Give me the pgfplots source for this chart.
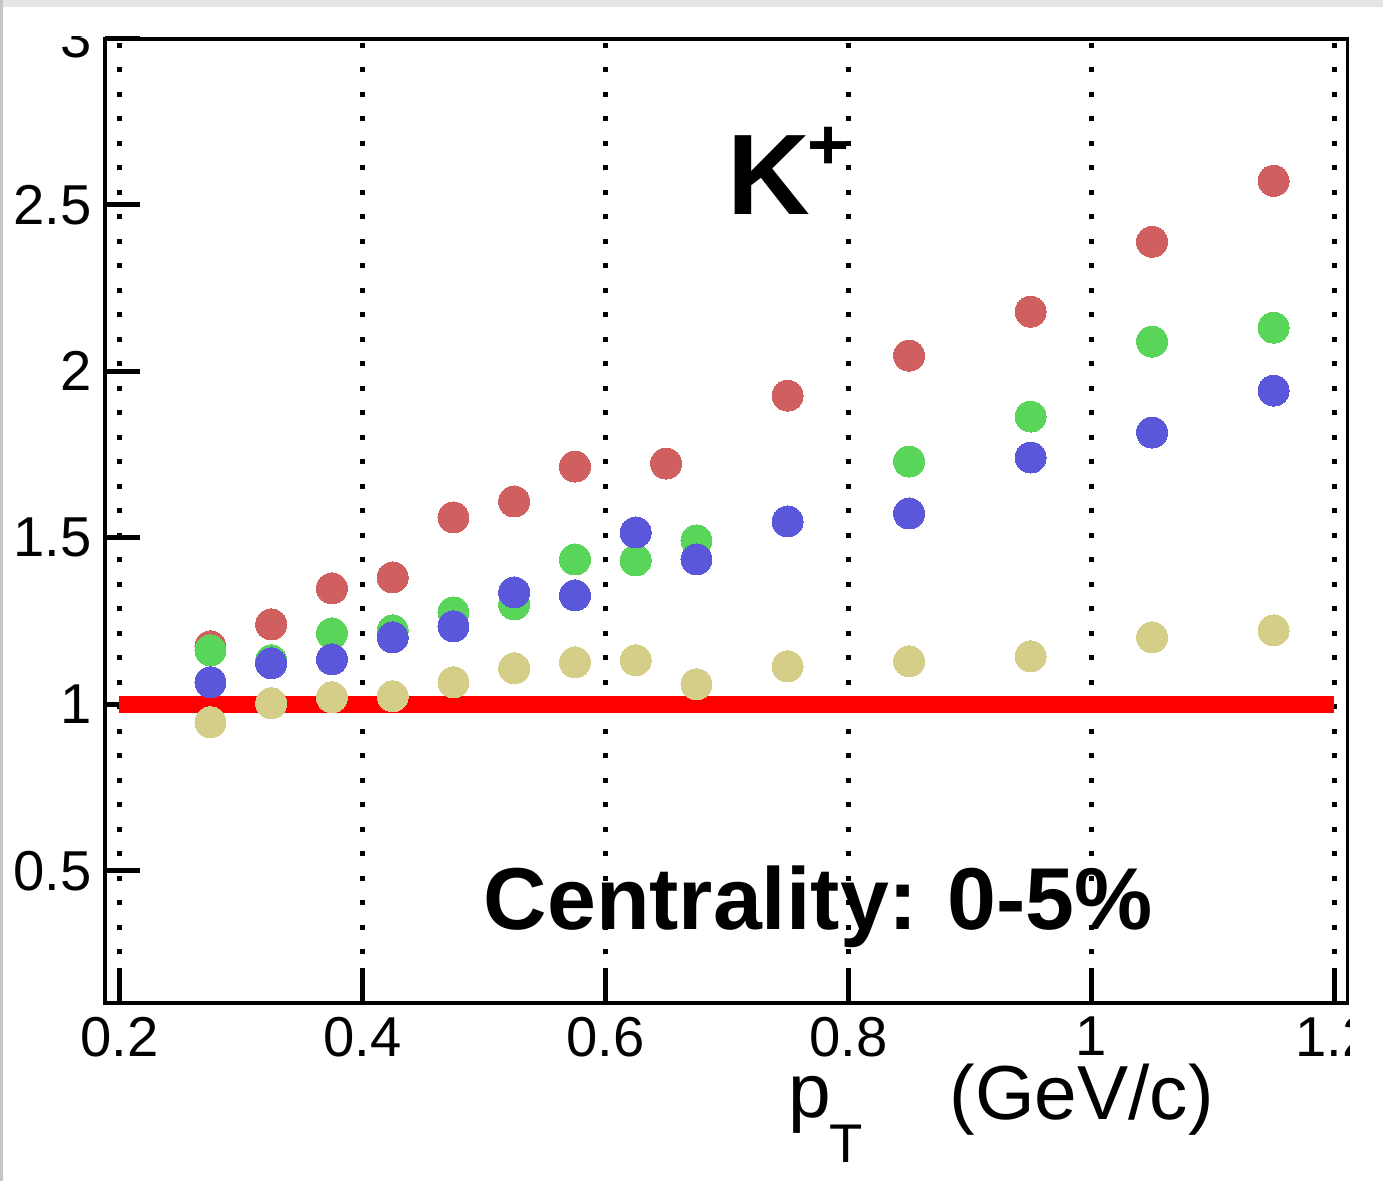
\documentclass[border=0pt]{standalone}
\usepackage{fontspec}
\setmainfont{Liberation Sans}
\usepackage{pgfplots}
\pgfplotsset{compat=1.18}
\definecolor{cred}{RGB}{208,95,95}
\definecolor{cgreen}{RGB}{89,213,89}
\definecolor{cblue}{RGB}{90,87,218}
\definecolor{cyellow}{RGB}{212,206,136}
\begin{document}
\begin{tikzpicture}
\useasboundingbox (0mm,0mm) rectangle (138.3mm,118.1mm);
\fill[white] (0mm,0mm) rectangle (138.3mm,118.1mm);
\begin{axis}[
  at={(10.45mm,17.77mm)}, anchor=south west,
  width=124.25mm, height=96.5mm, scale only axis,
  xmin=0.1878, xmax=1.2104, ymin=0.102, ymax=3.0,
  xtick={0.2,0.4,0.6,0.8,1,1.2},
  ytick={0.5,1,1.5,2,2.5,3},
  xtick pos=bottom, ytick pos=left,
  tick align=inside,
  major tick length=3.5mm,
  every tick/.style={black, line width=0.5mm},
  axis line style={line width=0.3mm},
  xmajorgrids,
  major x grid style={black, line width=0.5mm, dash pattern=on 0.5mm off 1.95mm},
  tick label style={font=\fontsize{16}{19}\selectfont},
  /pgf/number format/assume math mode=true,
  xticklabel style={inner sep=0pt, yshift=-1.3mm},
  yticklabel style={inner sep=0pt, xshift=-1.2mm},
]
\addplot[red, line width=1.7mm, forget plot] coordinates {(0.2,1) (1.2,1)};
\addplot[only marks, color=cred, mark=*, mark size=1.55mm, mark options={line width=0pt, draw=cred, fill=cred}] coordinates {
(0.275,1.174) (0.325,1.24) (0.375,1.348) (0.425,1.381) (0.475,1.561) (0.525,1.609) (0.575,1.714) (0.65,1.723) (0.75,1.927) (0.85,2.047) (0.95,2.179) (1.05,2.389) (1.15,2.572)};
\addplot[only marks, color=cgreen, mark=*, mark size=1.55mm, mark options={line width=0pt, draw=cgreen, fill=cgreen}] coordinates {
(0.275,1.162) (0.325,1.132) (0.375,1.213) (0.425,1.222) (0.475,1.276) (0.525,1.3) (0.575,1.435) (0.625,1.432) (0.675,1.492) (0.85,1.729) (0.95,1.864) (1.05,2.089) (1.15,2.131)};
\addplot[only marks, color=cblue, mark=*, mark size=1.55mm, mark options={line width=0pt, draw=cblue, fill=cblue}] coordinates {
(0.275,1.066) (0.325,1.123) (0.375,1.135) (0.425,1.201) (0.475,1.234) (0.525,1.336) (0.575,1.327) (0.625,1.516) (0.675,1.435) (0.75,1.549) (0.85,1.573) (0.95,1.741) (1.05,1.816) (1.15,1.942)};
\addplot[only marks, color=cyellow, mark=*, mark size=1.55mm, mark options={line width=0pt, draw=cyellow, fill=cyellow}] coordinates {
(0.275,0.946) (0.325,1.003) (0.375,1.021) (0.425,1.024) (0.475,1.066) (0.525,1.108) (0.575,1.126) (0.625,1.132) (0.675,1.06) (0.75,1.114) (0.85,1.129) (0.95,1.144) (1.05,1.201) (1.15,1.222)};
\draw[line width=0.55mm, line cap=rect] (rel axis cs:1,1) -- (rel axis cs:0,1) -- (rel axis cs:0,0) -- (rel axis cs:1,0);
\end{axis}
% clipping of labels as in the original
\fill[white] (0mm,114.5mm) rectangle (10mm,117.4mm);
\fill[white] (135mm,11mm) rectangle (138.3mm,17.2mm);
% screenshot border
\fill[gray!20] (0mm,117.4mm) rectangle (138.3mm,118.1mm);
\fill[gray!45] (0mm,0mm) rectangle (0.3mm,118.1mm);
% texts
\node[anchor=base west, inner sep=0pt, font=\fontsize{32.6}{38}\selectfont\bfseries] at (72.7mm,96.6mm) {K};
\node[anchor=base, inner sep=0pt, font=\fontsize{20.5}{24}\selectfont\bfseries] at (82.9mm,101.1mm) {+};
\node[anchor=base west, inner sep=0pt, font=\fontsize{25}{30}\selectfont\bfseries] at (48.3mm,25.1mm) {Centrality:\hspace{-0.04em} 0-5\%};
\node[anchor=base west, inner sep=0pt, font=\fontsize{21.8}{26}\selectfont] at (78.8mm,6.3mm) {p};
\node[anchor=base west, inner sep=0pt, font=\fontsize{15.5}{18}\selectfont] at (82.9mm,1.8mm) {T};
\node[anchor=base west, inner sep=0pt, font=\fontsize{21.8}{26}\selectfont] at (94.9mm,6.1mm) {(GeV/c)};
\end{tikzpicture}
\end{document}
